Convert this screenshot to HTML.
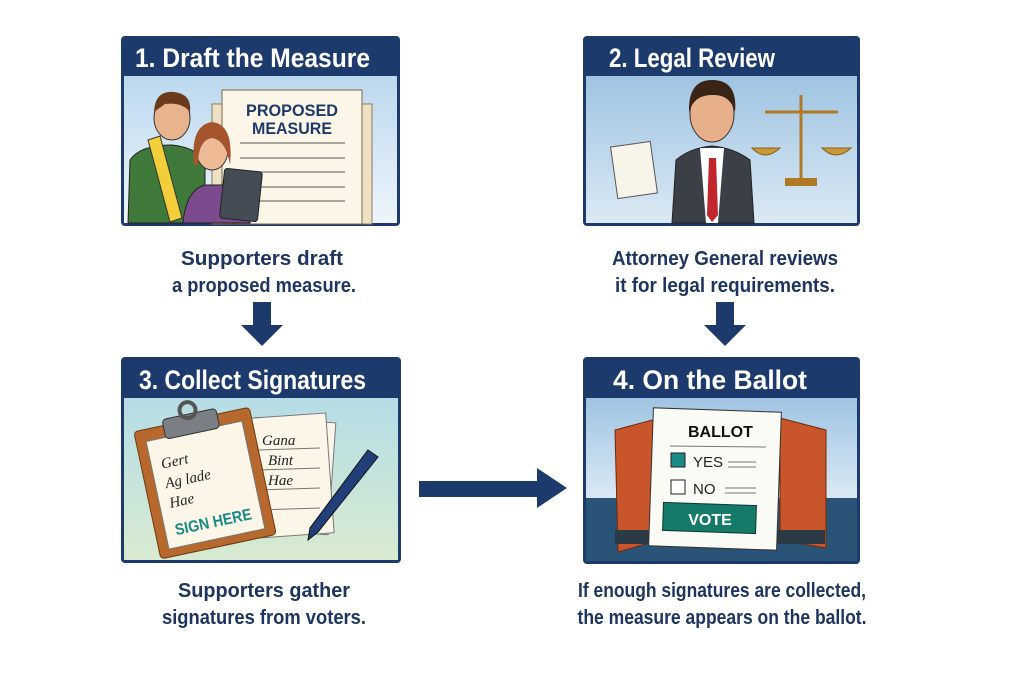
<!DOCTYPE html>
<html><head><meta charset="utf-8"><style>
html,body{margin:0;padding:0;background:#fff;}
svg{display:block;}
.h{font-family:"Liberation Sans",sans-serif;font-weight:bold;fill:#fff;font-size:27px;}
.c{font-family:"Liberation Sans",sans-serif;font-weight:bold;fill:#1d3560;font-size:20px;text-anchor:middle;}
</style></head><body>
<svg width="1024" height="683" viewBox="0 0 1024 683" xmlns="http://www.w3.org/2000/svg">
<defs>
<linearGradient id="sky" x1="0" y1="0" x2="0" y2="1"><stop offset="0" stop-color="#bcd8ee"/><stop offset="1" stop-color="#eef5fb"/></linearGradient>
<linearGradient id="sky2" x1="0" y1="0" x2="0" y2="1"><stop offset="0" stop-color="#9fc4e2"/><stop offset="1" stop-color="#dbe9f4"/></linearGradient>
<linearGradient id="sky3" x1="0" y1="0" x2="0" y2="1"><stop offset="0" stop-color="#b5dde6"/><stop offset="1" stop-color="#d8ead0"/></linearGradient>
</defs>
<rect width="1024" height="683" fill="#fff"/>

<!-- Panel 1 -->
<rect x="121" y="36" width="279" height="190" rx="4" fill="#1c3a6b"/>
<rect x="124" y="76" width="273" height="147" fill="url(#sky)"/>
<text x="135" y="67" class="h" textLength="235" lengthAdjust="spacingAndGlyphs">1. Draft the Measure</text>
<rect x="212" y="104" width="160" height="120" fill="#efe2c4" stroke="#8a7a5a"/>
<rect x="222" y="90" width="140" height="134" fill="#fbf6e8" stroke="#7a6a4a"/>
<text x="292" y="116" text-anchor="middle" font-family="Liberation Sans,sans-serif" font-weight="bold" font-size="17" fill="#1d3a6b" textLength="92" lengthAdjust="spacingAndGlyphs">PROPOSED</text>
<text x="292" y="134" text-anchor="middle" font-family="Liberation Sans,sans-serif" font-weight="bold" font-size="17" fill="#1d3a6b" textLength="80" lengthAdjust="spacingAndGlyphs">MEASURE</text>
<g stroke="#555" stroke-width="1"><line x1="240" y1="143" x2="345" y2="143"/><line x1="240" y1="158" x2="345" y2="158"/><line x1="240" y1="172" x2="345" y2="172"/><line x1="240" y1="187" x2="345" y2="187"/><line x1="240" y1="201" x2="345" y2="201"/></g>
<path d="M128 223 L130 160 Q140 145 172 145 Q200 148 205 165 L205 223Z" fill="#3f7a3a" stroke="#222"/>
<ellipse cx="172" cy="118" rx="18" ry="22" fill="#e8b48e" stroke="#333"/>
<path d="M154 112 Q155 90 174 92 Q192 94 190 112 Q182 102 165 104Z" fill="#6b3a1c"/>
<polygon points="148,140 160,136 182,218 170,222" fill="#f2cf3a" stroke="#333"/>
<path d="M183 223 Q186 190 205 185 L235 185 Q250 192 250 223Z" fill="#7b4b8e" stroke="#222"/>
<ellipse cx="212" cy="150" rx="16" ry="20" fill="#edbb96" stroke="#333"/>
<path d="M194 165 Q190 125 212 122 Q234 124 230 165 Q226 140 212 138 Q198 140 198 165Z" fill="#a4552e"/>
<rect x="222" y="170" width="38" height="50" rx="3" fill="#444c55" stroke="#222" transform="rotate(6 241 195)"/>

<!-- Panel 2 -->
<rect x="583" y="36" width="277" height="190" rx="4" fill="#1c3a6b"/>
<rect x="586" y="76" width="271" height="147" fill="url(#sky2)"/>
<text x="609" y="67" class="h" textLength="166" lengthAdjust="spacingAndGlyphs">2. Legal Review</text>
<path d="M672 223 L676 160 Q690 148 712 146 Q734 148 750 160 L754 223Z" fill="#3a3f48" stroke="#222"/>
<polygon points="700,148 724,148 718,223 706,223" fill="#fff"/>
<polygon points="709,158 716,158 718,215 712,222 707,215" fill="#c0262b"/>
<ellipse cx="712" cy="114" rx="22" ry="28" fill="#e8b08a" stroke="#333"/>
<path d="M689 112 Q688 80 712 80 Q738 80 735 112 Q730 94 712 95 Q694 95 689 112Z" fill="#3a2416"/>
<rect x="614" y="144" width="40" height="52" fill="#f7f4ea" stroke="#555" transform="rotate(-8 634 170)"/>
<g stroke="#b07a24" stroke-width="3" fill="none"><line x1="801" y1="95" x2="801" y2="180"/><line x1="765" y1="112" x2="838" y2="112"/></g>
<path d="M752 148 Q765 162 780 148Z M822 148 Q836 162 851 148Z" fill="#c89a3a" stroke="#8a6018"/>
<rect x="785" y="178" width="32" height="8" fill="#b07a24"/>

<!-- Panel 3 -->
<rect x="121" y="357" width="280" height="206" rx="4" fill="#1c3a6b"/>
<rect x="124" y="398" width="274" height="162" fill="url(#sky3)"/>
<text x="139" y="389" class="h" textLength="227" lengthAdjust="spacingAndGlyphs">3. Collect Signatures</text>
<rect x="252" y="420" width="80" height="112" fill="#fbf6e8" stroke="#777" transform="rotate(4 292 476)"/>
<rect x="240" y="416" width="90" height="120" fill="#fbf6e8" stroke="#777" transform="rotate(-4 285 476)"/>
<g stroke="#777"><line x1="258" y1="450" x2="320" y2="448"/><line x1="258" y1="470" x2="320" y2="468"/><line x1="258" y1="490" x2="320" y2="488"/><line x1="258" y1="510" x2="320" y2="508"/></g>
<text x="262" y="445" font-family="Liberation Serif,serif" font-style="italic" font-size="15" fill="#222">Gana</text>
<text x="268" y="465" font-family="Liberation Serif,serif" font-style="italic" font-size="15" fill="#222">Bint</text>
<text x="268" y="485" font-family="Liberation Serif,serif" font-style="italic" font-size="15" fill="#222">Hae</text>
<g transform="rotate(-12 205 478)">
<rect x="145" y="418" width="118" height="130" rx="4" fill="#b7682c" stroke="#6a3a14"/>
<rect x="155" y="430" width="98" height="110" fill="#fbf6e8" stroke="#777"/>
<rect x="175" y="412" width="55" height="20" rx="4" fill="#7a7f86" stroke="#333"/>
<circle cx="202" cy="408" r="8" fill="none" stroke="#555" stroke-width="4"/>
<text x="165" y="460" font-family="Liberation Serif,serif" font-style="italic" font-size="15" fill="#222">Gert</text>
<text x="165" y="480" font-family="Liberation Serif,serif" font-style="italic" font-size="15" fill="#222">Ag lade</text>
<text x="165" y="500" font-family="Liberation Serif,serif" font-style="italic" font-size="15" fill="#222">Hae</text>
<text x="165" y="528" font-family="Liberation Sans,sans-serif" font-weight="bold" font-size="16" fill="#1a8a86" textLength="78" lengthAdjust="spacingAndGlyphs">SIGN HERE</text>
</g>
<polygon points="368,450 378,457 318,532 308,540 310,528" fill="#233f7a" stroke="#111"/>

<!-- Panel 4 -->
<rect x="583" y="357" width="277" height="207" rx="4" fill="#1c3a6b"/>
<rect x="586" y="398" width="271" height="100" fill="url(#sky2)"/>
<rect x="586" y="498" width="271" height="63" fill="#2a5477"/>
<text x="613" y="389" class="h" textLength="194" lengthAdjust="spacingAndGlyphs">4. On the Ballot</text>
<polygon points="615,430 660,418 660,540 618,552" fill="#c8562a" stroke="#6a2a10"/>
<polygon points="780,418 826,430 826,548 780,540" fill="#c8562a" stroke="#6a2a10"/>
<rect x="615" y="530" width="210" height="14" fill="#2b3a45"/>
<rect x="651" y="410" width="128" height="138" fill="#fbfbf6" stroke="#333" transform="rotate(2 715 479)"/>
<text x="688" y="437" font-family="Liberation Sans,sans-serif" font-weight="bold" font-size="16" fill="#111">BALLOT</text>
<line x1="670" y1="446" x2="766" y2="447" stroke="#777"/>
<rect x="671" y="453" width="14" height="14" fill="#1a8a86" stroke="#222"/>
<text x="693" y="467" font-family="Liberation Sans,sans-serif" font-size="15" fill="#222">YES</text>
<rect x="671" y="480" width="14" height="14" fill="#fff" stroke="#222"/>
<text x="693" y="494" font-family="Liberation Sans,sans-serif" font-size="15" fill="#222">NO</text>
<g stroke="#777"><line x1="728" y1="462" x2="756" y2="462"/><line x1="728" y1="467" x2="756" y2="467"/><line x1="725" y1="488" x2="756" y2="488"/><line x1="725" y1="493" x2="756" y2="493"/></g>
<rect x="663" y="504" width="93" height="28" fill="#167a6a" stroke="#0a3a30" transform="rotate(2 710 518)"/>
<text x="710" y="525" text-anchor="middle" font-family="Liberation Sans,sans-serif" font-weight="bold" font-size="16" fill="#fff">VOTE</text>

<!-- Captions -->
<text x="262" y="265" class="c" textLength="162" lengthAdjust="spacingAndGlyphs">Supporters draft</text>
<text x="264" y="292" class="c" textLength="184" lengthAdjust="spacingAndGlyphs">a proposed measure.</text>
<text x="725" y="265" class="c" textLength="226" lengthAdjust="spacingAndGlyphs">Attorney General reviews</text>
<text x="725" y="292" class="c" textLength="220" lengthAdjust="spacingAndGlyphs">it for legal requirements.</text>
<text x="264" y="597" class="c" textLength="172" lengthAdjust="spacingAndGlyphs">Supporters gather</text>
<text x="264" y="624" class="c" textLength="204" lengthAdjust="spacingAndGlyphs">signatures from voters.</text>
<text x="722" y="597" class="c" textLength="288" lengthAdjust="spacingAndGlyphs">If enough signatures are collected,</text>
<text x="722" y="624" class="c" textLength="289" lengthAdjust="spacingAndGlyphs">the measure appears on the ballot.</text>

<!-- Arrows -->
<polygon points="253,302 271,302 271,325 283,325 262,346 241,325 253,325" fill="#1c3a6b"/>
<polygon points="716,302 734,302 734,325 746,325 725,346 704,325 716,325" fill="#1c3a6b"/>
<polygon points="419,481 537,481 537,468 567,488 537,508 537,497 419,497" fill="#1c3a6b"/>
</svg>
</body></html>
